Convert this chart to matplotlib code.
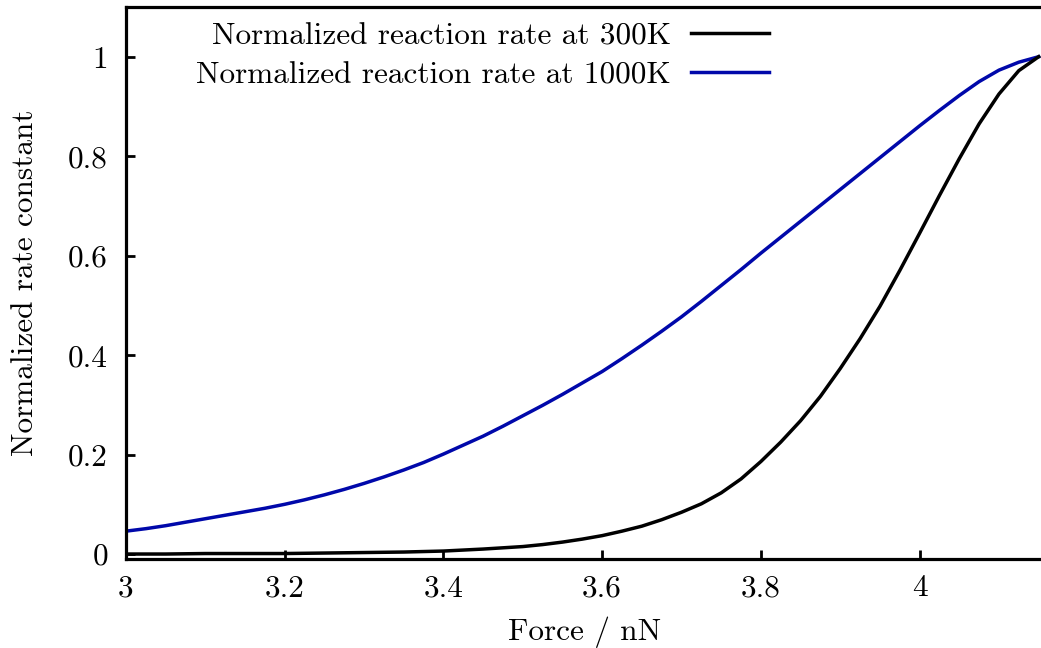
import matplotlib
matplotlib.use("Agg")
import matplotlib.pyplot as plt
from matplotlib.ticker import FuncFormatter, FixedLocator

# ---- data ----
force_1000 = [3.000, 3.025, 3.050, 3.075, 3.100, 3.125, 3.150, 3.175, 3.200, 3.225,
              3.250, 3.275, 3.300, 3.325, 3.350, 3.375, 3.400, 3.425, 3.450, 3.475,
              3.500, 3.525, 3.550, 3.575, 3.600, 3.625, 3.650, 3.675, 3.700, 3.725,
              3.750, 3.775, 3.800, 3.825, 3.850, 3.875, 3.900, 3.925, 3.950, 3.975,
              4.000, 4.025, 4.050, 4.075, 4.100, 4.125, 4.150]
rate_1000 = [0.046, 0.051, 0.057, 0.064, 0.071, 0.078, 0.085, 0.092, 0.100, 0.109,
             0.119, 0.130, 0.142, 0.155, 0.169, 0.184, 0.201, 0.219, 0.237, 0.257,
             0.278, 0.299, 0.321, 0.344, 0.367, 0.393, 0.420, 0.448, 0.477, 0.508,
             0.540, 0.572, 0.605, 0.637, 0.669, 0.701, 0.733, 0.765, 0.797, 0.829,
             0.861, 0.892, 0.922, 0.950, 0.973, 0.989, 1.000]

force_300 = [3.00, 3.05, 3.10, 3.15, 3.20, 3.25, 3.30, 3.35, 3.40, 3.45,
             3.500, 3.525, 3.550, 3.575, 3.600, 3.625, 3.650, 3.675, 3.700, 3.725,
             3.750, 3.775, 3.800, 3.825, 3.850, 3.875, 3.900, 3.925, 3.950, 3.975,
             4.000, 4.025, 4.050, 4.075, 4.100, 4.125, 4.150]
rate_300 = [0.000, 0.000, 0.001, 0.001, 0.001, 0.002, 0.003, 0.004, 0.006, 0.010,
            0.015, 0.019, 0.024, 0.030, 0.037, 0.046, 0.056, 0.069, 0.084, 0.101,
            0.123, 0.151, 0.186, 0.225, 0.268, 0.317, 0.373, 0.433, 0.498, 0.570,
            0.645, 0.721, 0.795, 0.865, 0.925, 0.972, 1.000]

x_ticks = [3.0, 3.2, 3.4, 3.6, 3.8, 4.0]
y_ticks = [0.0, 0.2, 0.4, 0.6, 0.8, 1.0]

label_300 = "Normalized reaction rate at 300K"
label_1000 = "Normalized reaction rate at 1000K"
x_label = "Force / nN"
y_label = "Normalized rate constant"

# ---- style ----
plt.rcParams['font.family'] = ['cmr10', 'DejaVu Serif']
plt.rcParams['axes.formatter.use_mathtext'] = True
plt.rcParams['mathtext.fontset'] = 'cm'
FS = 22.5

fig = plt.figure(figsize=(10.41, 6.48), dpi=100)
ax_w_px = 1041 - 126 + 2
ax = fig.add_axes([126/1041, (648-559)/648, ax_w_px/1041, (559-7)/648])

ax.plot(force_1000, rate_1000, color='#0008aa', lw=2.5, label=label_1000, zorder=2)
ax.plot(force_300, rate_300, color='black', lw=2.5, label=label_300, zorder=3)

ax.set_xlim(3.0, 4.1555)
ax.set_ylim(-0.01, 1.1)

fmt = FuncFormatter(lambda v, p: f"{v:g}")
ax.xaxis.set_major_locator(FixedLocator(x_ticks))
ax.yaxis.set_major_locator(FixedLocator(y_ticks))
ax.xaxis.set_major_formatter(fmt)
ax.yaxis.set_major_formatter(fmt)

for s in ['left', 'bottom', 'top']:
    ax.spines[s].set_linewidth(2.3)
ax.spines['right'].set_visible(False)

ax.tick_params(axis='both', direction='in', length=6.5, width=2.0, labelsize=FS,
               top=False, right=False)
ax.tick_params(axis='x', pad=11)
ax.tick_params(axis='y', pad=13)

ax.set_xlabel(x_label, fontsize=FS, labelpad=10)
ax.set_ylabel(y_label, fontsize=FS, labelpad=21)

handles, labels = ax.get_legend_handles_labels()
order = [1, 0]
leg = ax.legend([handles[i] for i in order], [labels[i] for i in order],
                loc='upper right', bbox_to_anchor=((769-126)/ax_w_px, 0.9725),
                frameon=False, markerfirst=False, fontsize=FS,
                handlelength=2.5, handletextpad=0.64, labelspacing=0.36,
                borderaxespad=0.0, borderpad=0.0)

fig.savefig("out.png", dpi=100)
